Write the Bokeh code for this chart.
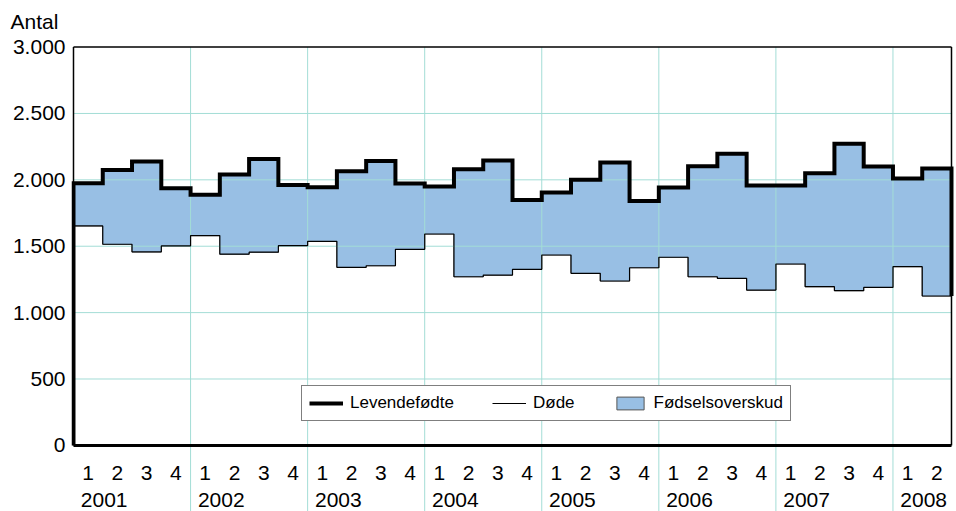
from bokeh.plotting import figure
from bokeh.models import LinearAxis, FixedTicker, Legend, LegendItem, Range1d
from bokeh.core.properties import value
from bokeh.embed import file_html
from bokeh.resources import INLINE

years = ["2001", "2002", "2003", "2004", "2005", "2006", "2007", "2008"]
quarter_labels = ["1", "2", "3", "4"] * 7 + ["1", "2"]
levende = [1975, 2075, 2138, 1937, 1887, 2040, 2157, 1962,
           1945, 2065, 2142, 1973, 1950, 2080, 2145, 1849,
           1905, 2000, 2130, 1840, 1942, 2103, 2196, 1958,
           1958, 2050, 2272, 2100, 2010, 2086]
dode = [1653, 1515, 1457, 1502, 1580, 1440, 1455, 1504,
        1537, 1341, 1353, 1477, 1592, 1270, 1283, 1326,
        1434, 1296, 1238, 1338, 1417, 1270, 1258, 1170,
        1366, 1195, 1165, 1190, 1346, 1125]
y_ticks = [0, 500, 1000, 1500, 2000, 2500, 3000]

FONT = "Liberation Sans"
BLUE = "#98bfe4"
GRID = "#a3ddd6"

n = len(levende)
y_top = y_ticks[-1]

# step coordinates
sx, s_lev, s_dod = [], [], []
for i in range(n):
    sx += [i, i + 1]
    s_lev += [levende[i]] * 2
    s_dod += [dode[i]] * 2
lev_x = [0] + sx + [n]
lev_y = [0] + s_lev + [dode[-1]]

p = figure(width=956, height=511, output_backend="svg", toolbar_location=None,
           x_range=Range1d(-0.0683, n + 0.171), y_range=Range1d(-498, 3057),
           min_border_left=71, min_border_right=0, min_border_top=0, min_border_bottom=0,
           x_axis_type=None, y_axis_type=None, outline_line_color=None)

p.title.text = "Antal"
p.title.align = "left"
p.title.offset = -67
p.title.standoff = 2
p.title.padding = 6
p.title.text_font = FONT
p.title.text_font_size = "21px"
p.title.text_font_style = "normal"
p.title.text_color = "black"

yaxis = LinearAxis(ticker=FixedTicker(ticks=y_ticks),
                   major_label_overrides={t: f"{t:,}".replace(",", ".") for t in y_ticks},
                   axis_line_color=None, major_tick_line_color=None, minor_tick_line_color=None,
                   major_tick_in=0, major_tick_out=0,
                   major_label_text_font=FONT, major_label_text_font_size="21px",
                   major_label_text_color="black", major_label_standoff=6)
p.add_layout(yaxis, "left")

# fill between (quads give the legend swatch, varea hides their inner edges)
sw = p.quad(left=list(range(n)), right=list(range(1, n + 1)), bottom=dode, top=levende,
            fill_color=BLUE, line_color="#555555", line_width=1)
p.varea(x=sx, y1=s_dod, y2=s_lev, fill_color=BLUE)

# grid lines
hg = [t for t in y_ticks if 0 < t < y_top]
p.segment(x0=[0] * len(hg), y0=hg, x1=[n] * len(hg), y1=hg, line_color=GRID, line_width=1)
vb = [4 * k for k in range(1, len(years))]
p.segment(x0=vb, y0=[y_top] * len(vb), x1=vb, y1=[p.y_range.start] * len(vb),
          line_color=GRID, line_width=1)

# series lines
dod_r = p.line(sx, s_dod, line_color="black", line_width=1.2)
lev_r = p.line(lev_x, lev_y, line_color="black", line_width=4, line_join="miter")

# frame
p.segment(x0=[0, 0, n], y0=[0, y_top, 0], x1=[0, n, n], y1=[y_top, y_top, y_top],
          line_color="black", line_width=1.5)
p.segment(x0=[0], y0=[0], x1=[n], y1=[0], line_color="black", line_width=3)

# category labels
p.text(x=[i + 0.5 for i in range(n)], y=[-207] * n, text=quarter_labels,
       text_align="center", text_baseline="middle",
       text_font=value(FONT), text_font_size="21px", text_color="black")
p.text(x=[4 * k + 0.25 for k in range(len(years))], y=[-410] * len(years), text=years,
       text_align="left", text_baseline="middle",
       text_font=value(FONT), text_font_size="21px", text_color="black")

legend = Legend(items=[LegendItem(label="Levendefødte", renderers=[lev_r]),
                       LegendItem(label="Døde", renderers=[dod_r]),
                       LegendItem(label="Fødselsoverskud", renderers=[sw])],
                orientation="horizontal", location=(230, 90),
                glyph_width=34, glyph_height=16, label_standoff=7, spacing=38, padding=7,
                border_line_color="black", border_line_width=1, background_fill_alpha=1,
                label_text_font=FONT, label_text_font_size="17px", label_text_color="black",
                margin=0)
p.add_layout(legend)

open("out.html", "w").write(file_html(p, INLINE))
